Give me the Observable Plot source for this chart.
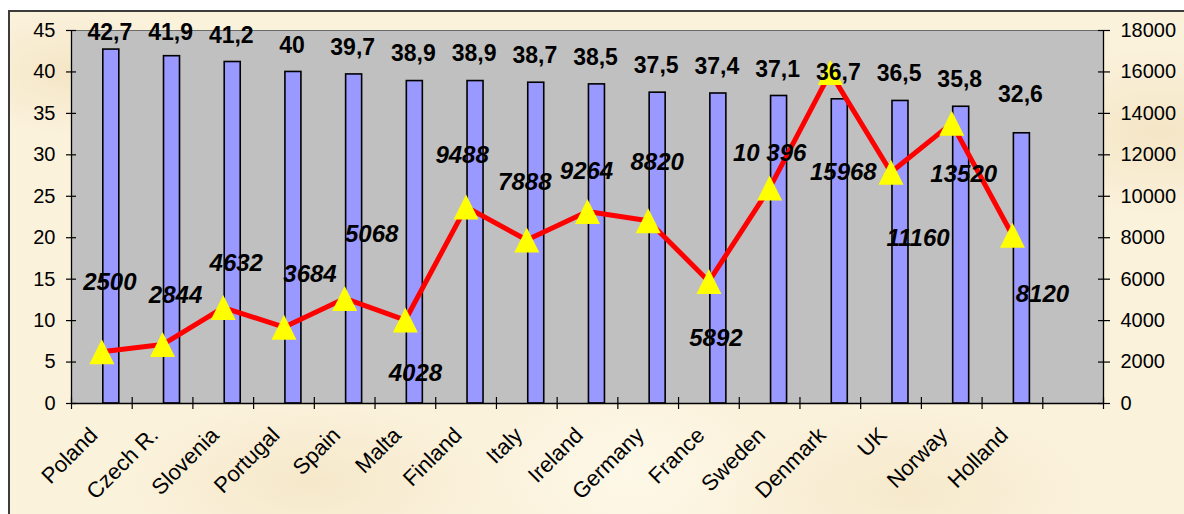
<!DOCTYPE html>
<html>
<head>
<meta charset="utf-8">
<script src="https://cdn.jsdelivr.net/npm/d3@7"></script>
<script src="https://cdn.jsdelivr.net/npm/@observablehq/plot@0.6"></script>
<style>
  html, body { margin: 0; padding: 0; background: #ffffff; }
  #wrap { position: relative; width: 1184px; height: 514px; overflow: hidden; }
  #paper {
    position: absolute; left: 8px; top: 10px; width: 1200px; height: 530px;
    border-left: 2px solid #3c3c3c; border-top: 2px solid #3c3c3c;
    background-color: #fbf2dc;
    background-image:
      radial-gradient(ellipse 160px 90px at 60px 60px, rgba(236,214,170,0.45), rgba(236,214,170,0) 70%),
      radial-gradient(ellipse 220px 120px at 1150px 120px, rgba(236,214,170,0.45), rgba(236,214,170,0) 70%),
      radial-gradient(ellipse 260px 120px at 300px 470px, rgba(240,222,184,0.5), rgba(240,222,184,0) 70%),
      radial-gradient(ellipse 260px 120px at 900px 480px, rgba(240,222,184,0.45), rgba(240,222,184,0) 70%),
      radial-gradient(ellipse 200px 140px at 620px 460px, rgba(255,252,240,0.6), rgba(255,252,240,0) 70%);
  }
  #chart { position: absolute; left: 0; top: 0; }
</style>
</head>
<body>
<div id="wrap"><div id="paper"></div><div id="chart"></div></div>
<script>
// ---- data ----
const countries = ["Poland", "Czech R.", "Slovenia", "Portugal", "Spain", "Malta", "Finland", "Italy",
  "Ireland", "Germany", "France", "Sweden", "Denmark", "UK", "Norway", "Holland"];
const barValues = [42.7, 41.9, 41.2, 40, 39.7, 38.9, 38.9, 38.7, 38.5, 37.5, 37.4, 37.1, 36.7, 36.5, 35.8, 32.6];
const barLabels = ["42,7", "41,9", "41,2", "40", "39,7", "38,9", "38,9", "38,7", "38,5", "37,5", "37,4", "37,1", "36,7", "36,5", "35,8", "32,6"];
const lineValues = [2500, 2844, 4632, 3684, 5068, 4028, 9488, 7888, 9264, 8820, 5892, 10396, 15968, 11160, 13520, 8120];
const lineLabels = ["2500", "2844", "4632", "3684", "5068", "4028", "9488", "7888", "9264", "8820", "5892", "10 396", "15968", "11160", "13520", "8120"];
const leftTicks = [0, 5, 10, 15, 20, 25, 30, 35, 40, 45];
const rightTicks = [0, 2000, 4000, 6000, 8000, 10000, 12000, 14000, 16000, 18000];

// ---- label placement (pixel offsets) ----
const barLabelDy = [-17, -24, -26, -26, -27, -27, -27, -27, -27, -27, -27, -26, -27, -27, -27, -39];
const lineLabelDx = [8, 13, 13, 26, 27, 10, -4, -2, -1, 9, 7, 0, 13, 27, 12, 30];
const lineLabelDy = [-69, -49, -44, -53, -64, 53, -52, -58, -40, -58, 57, -35, 100, 66, 51, 59];

const nSlots = countries.length + 1;           // last category slot is empty
const rightMax = rightTicks[rightTicks.length - 1];
const leftMax = leftTicks[leftTicks.length - 1];
const k = leftMax / rightMax;                   // right axis -> left axis units

const rows = countries.map((c, i) => ({
  i, country: c, bar: barValues[i], barLabel: barLabels[i],
  line: lineValues[i] * k, lineLabel: lineLabels[i]
}));

const tri = {
  draw(ctx, size) {
    const h = Math.sqrt(size / Math.PI);
    ctx.moveTo(0, -h);
    ctx.lineTo(h, h);
    ctx.lineTo(-h, h);
    ctx.closePath();
  }
};

const font = "'Liberation Sans', Arial, sans-serif";

const chart = Plot.plot({
  width: 1184,
  height: 514,
  marginLeft: 71,
  marginRight: 81,
  marginTop: 30,
  marginBottom: 111,
  x: {type: "linear", domain: [0, nSlots], axis: null},
  y: {domain: [0, leftMax], axis: null},
  style: {fontFamily: font, fontSize: "20px", color: "#000", background: "transparent", overflow: "visible"},
  marks: [
    Plot.frame({fill: "#c0c0c0", stroke: "#6a6a6a", strokeWidth: 1}),
    Plot.rectY(rows, {
      x1: d => d.i, x2: d => d.i + 1, y1: 0, y2: d => d.bar,
      insetLeft: 31.8, insetRight: 12.9,
      fill: "#9999ff", stroke: "#000", strokeWidth: 1.6
    }),
    // axis lines
    Plot.ruleX([0, nSlots], {stroke: "#000", strokeWidth: 1.3}),
    Plot.ruleY([0], {stroke: "#000", strokeWidth: 1.3}),
    // crossing tick marks
    Plot.ruleY(leftTicks, {y: d => d, x1: 0, x2: 0, insetLeft: -5, insetRight: -5, stroke: "#000", strokeWidth: 1.2}),
    Plot.ruleY(leftTicks, {y: d => d, x1: nSlots, x2: nSlots, insetLeft: -5, insetRight: -7, stroke: "#000", strokeWidth: 1.2}),
    Plot.ruleX(d3.range(nSlots + 1), {x: d => d, y1: 0, y2: 0, insetTop: -6, insetBottom: -6, stroke: "#000", strokeWidth: 1.2}),
    // axis tick labels
    Plot.axisY({anchor: "left", ticks: leftTicks, tickSize: 0, tickPadding: 16, fontSize: 20, fill: "#000"}),
    Plot.axisY({anchor: "right", ticks: leftTicks, tickSize: 0, tickPadding: 17, fontSize: 20, fill: "#000",
      tickFormat: d => String(Math.round(d / k))}),
    // category labels
    Plot.text(rows, {
      x: d => d.i + 0.5, y: () => 0, text: "country",
      rotate: -45, textAnchor: "end", dx: -8, dy: 28, fontSize: 22, fill: "#000"
    }),
    // line + markers
    Plot.line(rows, {x: d => d.i + 0.5, y: "line", stroke: "#ff0000", strokeWidth: 5, strokeLinejoin: "round"}),
    Plot.dot(rows, {x: d => d.i + 0.5, y: "line", symbol: tri, r: 12.5, fill: "#ffff00", stroke: "none"}),
    // bar value labels
    rows.map(d => Plot.text([d], {
      x: r => r.i + 0.5, y: "bar", text: "barLabel",
      dx: 8, dy: barLabelDy[d.i], fontSize: 23, fontWeight: "bold", fill: "#000"
    })),
    // line value labels
    rows.map(d => Plot.text([d], {
      x: r => r.i + 0.5, y: "line", text: "lineLabel",
      dx: lineLabelDx[d.i], dy: lineLabelDy[d.i], fontSize: 24, fontWeight: "bold", fontStyle: "italic", fill: "#000"
    }))
  ]
});

document.getElementById("chart").appendChild(chart);
</script>
</body>
</html>
